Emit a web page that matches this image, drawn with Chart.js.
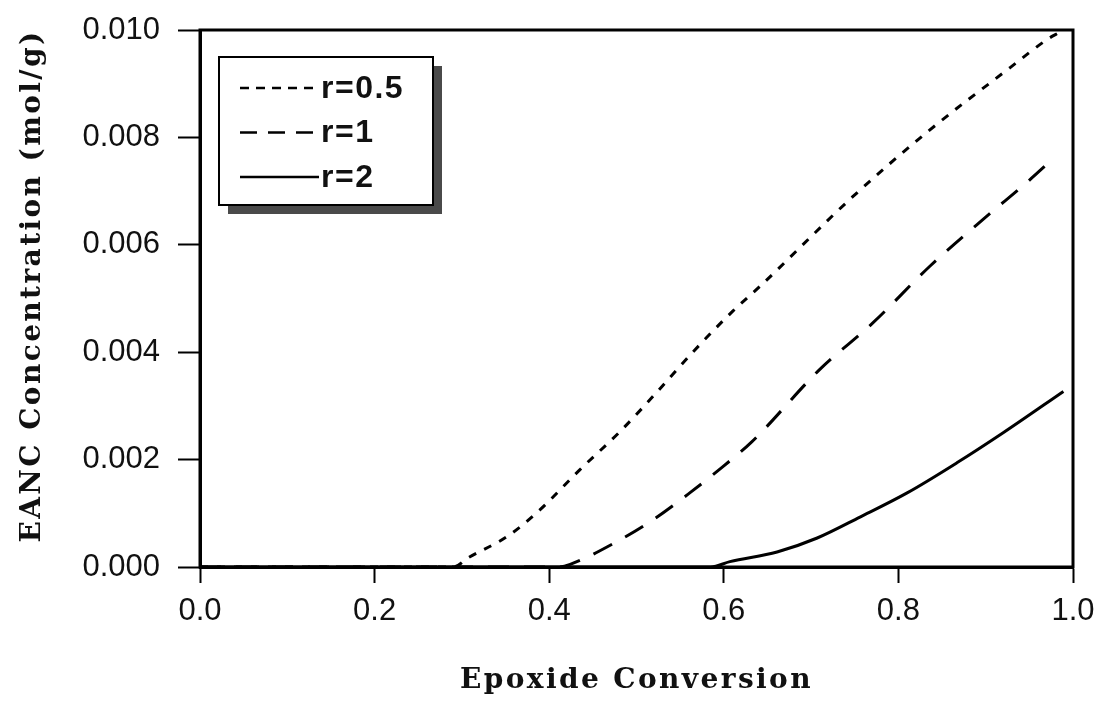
<!DOCTYPE html>
<html>
<head>
<meta charset="utf-8">
<script src="https://cdn.jsdelivr.net/npm/chart.js@4/dist/chart.umd.min.js"></script>
<style>
  html, body { margin: 0; padding: 0; background: #fff; }
  canvas { display: block; }
</style>
</head>
<body>
<canvas id="eancChart" width="1103" height="705"></canvas>
<script>
// values (x = epoxide conversion, y = EANC in mol/g)
const seriesLabels = ['r=0.5', 'r=1', 'r=2'];
const xTitle = 'Epoxide Conversion';
const yTitle = 'EANC Concentration (mol/g)';

const convR05 = [0, 0.29, 0.307, 0.353, 0.389, 0.435, 0.481, 0.523, 0.565, 0.61, 0.641, 0.748, 0.833, 0.928, 0.971, 0.985];
const eancR05 = [0, 0, 0.00017, 0.00058, 0.00106, 0.00181, 0.00252, 0.00325, 0.00401, 0.00476, 0.00522, 0.0069, 0.0081, 0.0093, 0.00983, 0.00996];

const convR1 = [0, 0.41, 0.424, 0.475, 0.519, 0.561, 0.599, 0.632, 0.71, 0.771, 0.836, 0.901, 0.947, 0.979];
const eancR1 = [0, 0, 0.00005, 0.00045, 0.00088, 0.00138, 0.00187, 0.00233, 0.00368, 0.00455, 0.0056, 0.00653, 0.00716, 0.00763];

const convR2 = [0, 0.585, 0.607, 0.661, 0.707, 0.756, 0.81, 0.867, 0.92, 0.989];
const eancR2 = [0, 0, 0.0001, 0.00028, 0.00054, 0.00093, 0.00138, 0.00194, 0.0025, 0.00327];

const xTicks = [0, 0.2, 0.4, 0.6, 0.8, 1.0];
const yTicks = [0, 0.002, 0.004, 0.006, 0.008, 0.010];

const toPoints = (xs, ys) => xs.map((x, i) => ({ x: x, y: ys[i] }));

// frame, boxed legend with drop shadow, and the two wide-set serif axis titles
const frameAndLegend = {
    id: 'frameAndLegend',
    afterDraw(chart) {
        const { ctx, chartArea: a } = chart;
        ctx.save();
        ctx.strokeStyle = '#000';
        ctx.lineWidth = 3;
        ctx.strokeRect(a.left, a.top, a.right - a.left, a.bottom - a.top);

        const bx = a.left + 19, by = a.top + 27, bw = 214, bh = 148;
        ctx.fillStyle = '#4a4a4a';
        ctx.fillRect(bx + 9, by + 9, bw, bh);
        ctx.fillStyle = '#fff';
        ctx.fillRect(bx, by, bw, bh);
        ctx.lineWidth = 2;
        ctx.strokeRect(bx, by, bw, bh);

        ctx.font = 'bold 32px "Liberation Sans", Arial, sans-serif';
        ctx.letterSpacing = '1.5px';
        ctx.textBaseline = 'middle';
        ctx.fillStyle = '#111';
        chart.data.datasets.forEach((ds, i) => {
            const y = by + 31 + i * 44.5;
            ctx.lineWidth = 2.5;
            ctx.setLineDash(ds.legendDash);
            ctx.beginPath();
            ctx.moveTo(bx + 21, y);
            ctx.lineTo(bx + 100, y);
            ctx.stroke();
            ctx.setLineDash([]);
            ctx.fillText(ds.label, bx + 102, y + 1);
        });

        ctx.font = 'bold 28px "DejaVu Serif", serif';
        ctx.letterSpacing = '2.4px';
        ctx.textAlign = 'center';
        ctx.textBaseline = 'alphabetic';
        ctx.fillText(xTitle, (a.left + a.right) / 2, 688);

        ctx.translate(40, 286);
        ctx.rotate(-Math.PI / 2);
        ctx.fillText(yTitle, 0, 0);
        ctx.restore();
    }
};

new Chart(document.getElementById('eancChart'), {
    type: 'line',
    data: {
        datasets: [
            { label: seriesLabels[0], data: toPoints(convR05, eancR05), borderDash: [8, 9], legendDash: [9, 7] },
            { label: seriesLabels[1], data: toPoints(convR1, eancR1), borderDash: [21, 15], legendDash: [17, 11] },
            { label: seriesLabels[2], data: toPoints(convR2, eancR2), borderDash: [], legendDash: [] }
        ].map(d => Object.assign(d, {
            borderColor: '#000',
            borderWidth: 3,
            pointRadius: 0,
            cubicInterpolationMode: 'monotone',
            fill: false
        }))
    },
    options: {
        responsive: false,
        animation: false,
        layout: { padding: { top: 30, right: 30, left: 0, bottom: 0 } },
        plugins: { legend: { display: false }, tooltip: { enabled: false } },
        scales: {
            x: {
                type: 'linear',
                min: 0, max: 1,
                afterBuildTicks: s => { s.ticks = xTicks.map(v => ({ value: v })); },
                afterFit: s => { s.height = 138; s.paddingLeft = 0; s.paddingRight = 0; },
                border: { color: '#000', width: 3 },
                grid: { drawOnChartArea: false, color: '#000', tickLength: 16, tickWidth: 2 },
                ticks: {
                    padding: 10,
                    color: '#111',
                    font: { family: '"Liberation Sans", Arial, sans-serif', size: 31 },
                    callback: v => v.toFixed(1)
                }
            },
            y: {
                min: 0, max: 0.01,
                afterBuildTicks: s => { s.ticks = yTicks.map(v => ({ value: v })); },
                afterFit: s => { s.width = 200; s.paddingTop = 0; s.paddingBottom = 0; },
                border: { color: '#000', width: 3 },
                grid: { drawOnChartArea: false, color: '#000', tickLength: 22, tickWidth: 2 },
                ticks: {
                    padding: 18,
                    color: '#111',
                    font: { family: '"Liberation Sans", Arial, sans-serif', size: 31 },
                    callback: v => v.toFixed(3)
                }
            }
        }
    },
    plugins: [frameAndLegend]
});
</script>
</body>
</html>
